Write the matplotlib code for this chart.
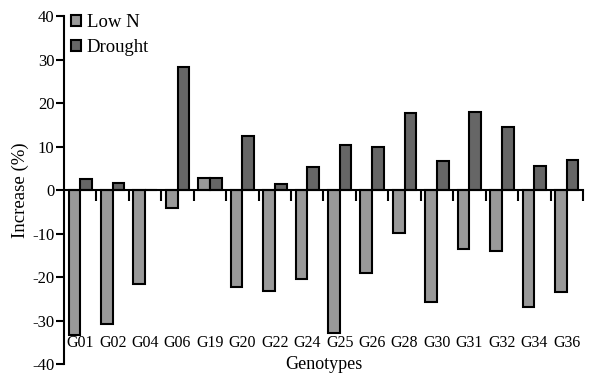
import matplotlib.pyplot as plt
import numpy as np

plt.rcParams['font.family'] = 'Liberation Serif'
plt.rcParams['axes.unicode_minus'] = False

genotypes = ['G01', 'G02', 'G04', 'G06', 'G19', 'G20', 'G22', 'G24',
             'G25', 'G26', 'G28', 'G30', 'G31', 'G32', 'G34', 'G36']
low_n = [-33.2, -30.8, -21.6, -4.0, 2.8, -22.2, -23.2, -20.3,
         -32.7, -18.9, -9.7, -25.6, -13.6, -13.9, -26.9, -23.4]
drought = [2.5, 1.8, 0.0, 28.3, 2.8, 12.5, 1.4, 5.3,
           10.4, 10.0, 17.8, 6.8, 18.1, 14.5, 5.7, 7.0]

fig = plt.figure(figsize=(6.01, 3.74), dpi=100)
ax = fig.add_axes([0.1065, 0.026, 0.8635, 0.930])

x = np.arange(len(genotypes))
w = 0.36
ax.bar(x - w / 2, low_n, w, color='#999999', edgecolor='black', linewidth=1.5, label='Low N')
ax.bar(x + w / 2, drought, w, color='#666666', edgecolor='black', linewidth=1.5, label='Drought')

ax.set_xlim(-0.5, len(genotypes) - 0.5)
ax.set_ylim(-40, 40)
ax.set_yticks(np.arange(-40, 41, 10))
ax.tick_params(axis='y', direction='out', length=6, width=1.5, labelsize=12, pad=1)

ax.spines['top'].set_visible(False)
ax.spines['right'].set_visible(False)
ax.spines['left'].set_linewidth(1.5)
ax.spines['bottom'].set_position(('data', 0))
ax.spines['bottom'].set_linewidth(1.5)
ax.set_xticks(np.arange(0.5, len(genotypes), 1.0))
ax.set_xticklabels([])
ax.tick_params(axis='x', direction='out', length=8, width=1.5)

for i, g in enumerate(genotypes):
    ax.text(i, -35.0, g, ha='center', va='center', fontsize=11.5)

ax.set_ylabel('Increase (%)', fontsize=13.5, labelpad=2)
ax.text(0.5, -0.002, 'Genotypes', transform=ax.transAxes, ha='center', va='center', fontsize=13)

ax.legend(loc='upper left', bbox_to_anchor=(-0.012, 1.045), frameon=False, fontsize=13.5,
          handlelength=0.55, handleheight=0.55, handletextpad=0.3, labelspacing=0.45,
          borderaxespad=0.3)

fig.savefig('out.png', dpi=100)
